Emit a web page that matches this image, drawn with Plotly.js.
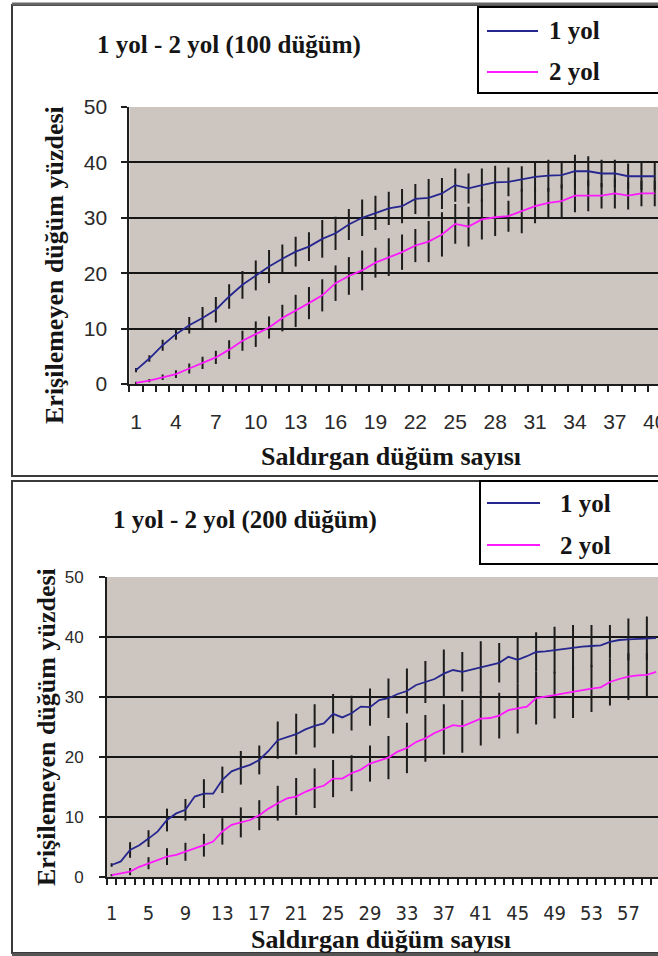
<!DOCTYPE html>
<html>
<head>
<meta charset="utf-8">
<script src="https://cdn.plot.ly/plotly-3.0.1.min.js"></script>
<style>
html,body{margin:0;padding:0;background:#fff;overflow:hidden;width:658px;height:956px;}
#chart{width:665px;height:956px;}
</style>
</head>
<body>
<div id="chart"></div>
<script>
// ---------- data ----------
const categories100 = Array.from({length: 40}, (_, i) => i + 1);
const categories200 = Array.from({length: 60}, (_, i) => i + 1);

const yol1_100 = [2.5,4.6,7.0,9.0,10.6,11.9,13.4,15.8,17.9,19.6,
                  21.2,22.6,23.9,24.8,26.2,27.2,28.8,30.0,30.9,31.7,
                  32.1,33.4,33.6,34.4,35.9,35.3,35.9,36.4,36.5,37.0,
                  37.4,37.6,37.7,38.4,38.4,38.0,38.0,37.5,37.5,37.5];
const yol2_100 = [0.2,0.6,1.2,1.8,2.8,3.8,4.8,6.2,7.8,9.0,
                  10.2,11.9,13.2,14.6,16.0,18.2,19.5,20.5,21.9,22.9,
                  23.8,25.0,25.7,27.0,28.9,28.4,29.7,30.1,30.3,31.2,
                  32.1,32.7,33.0,34.0,34.0,34.0,34.4,34.0,34.4,34.4];
const err1_100 = [0.4,0.6,1.0,1.0,1.5,2.0,2.3,2.2,2.5,2.7,
                  3.0,2.6,2.7,2.6,3.4,3.0,2.8,3.3,3.1,3.0,
                  3.1,2.7,3.4,2.8,3.0,2.7,3.0,3.0,2.6,2.3,
                  2.7,2.9,2.4,3.0,2.7,2.5,2.5,2.3,2.5,2.5];
const err2_100 = [0.2,0.3,0.5,0.7,0.9,1.1,1.2,1.7,1.8,2.3,
                  2.0,2.4,2.9,2.9,2.9,3.2,3.4,3.6,2.7,3.4,
                  3.2,3.0,3.7,4.0,3.6,3.6,3.6,3.4,2.8,4.0,
                  3.1,2.7,3.0,3.0,2.8,2.3,2.7,2.5,2.3,2.3];

const yol1_200 = [2.0,2.6,4.5,5.3,6.4,7.6,9.5,10.6,11.2,13.4,
                  13.9,13.9,16.2,17.6,18.2,18.7,19.5,21.0,22.8,23.3,
                  23.8,24.6,25.2,25.6,27.2,26.6,27.3,28.4,28.3,29.5,
                  29.8,30.5,31.0,32.0,32.5,33.0,33.9,34.5,34.2,34.6,
                  35.0,35.4,35.7,36.7,36.2,36.8,37.5,37.6,37.8,38.0,
                  38.3,38.4,38.5,38.6,39.2,39.5,39.6,39.7,39.8,39.8];
const yol2_200 = [0.3,0.6,0.9,1.7,2.3,2.8,3.4,3.7,4.2,4.8,
                  5.3,5.9,7.6,8.7,9.1,9.5,10.3,11.4,12.3,13.1,
                  13.4,14.2,14.8,15.2,16.4,16.4,17.3,17.9,18.9,19.4,
                  19.9,20.9,21.5,22.5,23.1,24.0,24.6,25.3,25.1,25.8,
                  26.4,26.5,26.9,27.8,28.1,28.4,29.8,30.0,30.3,30.6,
                  30.9,31.2,31.4,31.6,32.5,33.0,33.4,33.6,33.7,34.2];
// error bars are drawn on every second category (odd ones)
const err1_200 = [0.3,null,1.3,null,1.4,null,1.9,null,1.8,null,
                  2.4,null,2.2,null,2.8,null,2.4,null,3.1,null,
                  3.4,null,3.6,null,3.3,null,2.9,null,3.1,null,
                  3.3,null,3.75,null,3.5,null,4.0,null,3.3,null,
                  4.3,null,3.3,null,3.9,null,3.3,null,3.9,null,
                  3.7,null,3.5,null,2.8,null,3.5,null,3.6,null];
const err2_200 = [0.2,null,0.6,null,1.0,null,1.4,null,1.5,null,
                  1.9,null,2.2,null,2.5,null,2.5,null,2.9,null,
                  3.1,null,3.3,null,3.1,null,3.0,null,3.0,null,
                  3.6,null,4.2,null,3.9,null,4.2,null,4.4,null,
                  4.5,null,3.8,null,4.2,null,4.4,null,3.9,null,
                  4.4,null,3.9,null,3.9,null,3.9,null,3.6,null];

const tickVals100 = [1,4,7,10,13,16,19,22,25,28,31,34,37,40];
const tickVals200 = [1,5,9,13,17,21,25,29,33,37,41,45,49,53,57];
const yTicks = [0,10,20,30,40,50];

const seriesNames = ['1 yol', '2 yol'];
const titles = ['1 yol - 2 yol (100 düğüm)', '1 yol - 2 yol (200 düğüm)'];
const xTitle = 'Saldırgan düğüm sayısı';
const yTitle = 'Erişilemeyen düğüm yüzdesi';

// ---------- styling ----------
const W = 665, H = 956;
const fx = p => p / W;
const fy = p => 1 - p / H;
const BLUE = '#26268f';
const PINK = '#ff19ff';
const ERR = '#1c1c1c';
const serif = 'Liberation Serif, Times New Roman, serif';
const sans = 'Liberation Sans, Arial, sans-serif';
const narrow = 'Liberation Sans Narrow, DejaVu Sans Condensed, Arial Narrow, sans-serif';

function lineTrace(x, y, err, color, xa, ya, name) {
  return {
    type: 'scatter', mode: 'lines', x: x, y: y, name: name,
    xaxis: xa, yaxis: ya, showlegend: false,
    line: {color: color, width: 1.8},
    error_y: {type: 'data', array: err, visible: true, color: ERR, thickness: 2, width: 0}
  };
}

const traces = [
  lineTrace(categories100, yol1_100, err1_100, BLUE, 'x', 'y', seriesNames[0]),
  lineTrace(categories100, yol2_100, err2_100, PINK, 'x', 'y', seriesNames[1]),
  lineTrace(categories200, yol1_200, err1_200, BLUE, 'x2', 'y2', seriesNames[0]),
  lineTrace(categories200, yol2_200, err2_200, PINK, 'x2', 'y2', seriesNames[1])
];

function xAxis(domain, n, tickvals, font, standoff) {
  return {
    domain: domain, range: [0.5, n + 0.5], tickmode: 'array', tickvals: tickvals,
    ticks: '', showgrid: false, zeroline: false, fixedrange: true,
    showline: true, linecolor: '#1e1e1e', linewidth: 2,
    tickfont: font, ticklabelstandoff: standoff, ticklabeloverflow: 'allow',
    minor: {tickmode: 'linear', tick0: 0.5, dtick: 1, ticks: 'outside', ticklen: 6, tickcolor: '#1e1e1e', tickwidth: 2, showgrid: false}
  };
}
function yAxis(domain, font, standoff, anchor) {
  return {
    domain: domain, range: [0, 50], tickmode: 'array', tickvals: yTicks, anchor: anchor,
    ticks: 'outside', ticklen: 6, tickcolor: '#1e1e1e', tickwidth: 2,
    showgrid: true, gridcolor: '#161616', gridwidth: 2, zeroline: false, fixedrange: true,
    showline: true, linecolor: '#1e1e1e', linewidth: 2,
    tickfont: font, ticklabelstandoff: standoff
  };
}

const layout = {
  width: W, height: H,
  margin: {l: 0, r: 0, t: 0, b: 0},
  paper_bgcolor: '#ffffff',
  plot_bgcolor: '#cdc6c0',
  showlegend: false,
  xaxis: Object.assign(xAxis([fx(129.4), fx(661.4)], 40, tickVals100, {family: sans, size: 21, color: '#2a2a2a'}, 18), {anchor: 'y'}),
  yaxis: yAxis([fy(384), fy(107)], {family: sans, size: 21, color: '#2a2a2a'}, 10, 'x'),
  xaxis2: Object.assign(xAxis([fx(107), fx(660.7)], 60, tickVals200, {family: narrow, size: 20, color: '#2a2a2a'}, 17), {anchor: 'y2'}),
  yaxis2: yAxis([fy(877), fy(577)], {family: sans, size: 17, color: '#2a2a2a'}, 12, 'x2'),
  shapes: [
    // chart frames
    {type: 'rect', xref: 'paper', yref: 'paper', x0: fx(12), x1: fx(720), y0: fy(476), y1: fy(5), line: {color: '#3a3a3a', width: 2}},
    {type: 'rect', xref: 'paper', yref: 'paper', x0: fx(12), x1: fx(720), y0: fy(953), y1: fy(481), line: {color: '#3a3a3a', width: 2}},
    {type: 'line', xref: 'paper', yref: 'paper', x0: fx(12), x1: fx(720), y0: fy(954.5), y1: fy(954.5), line: {color: '#555', width: 3}},
    {type: 'line', xref: 'paper', yref: 'paper', x0: fx(12), x1: fx(720), y0: fy(4), y1: fy(4), line: {color: '#666', width: 3}},
    // legend boxes
    {type: 'rect', xref: 'paper', yref: 'paper', x0: fx(478), x1: fx(720), y0: fy(93), y1: fy(7), line: {color: '#000', width: 2}, fillcolor: '#fff'},
    {type: 'rect', xref: 'paper', yref: 'paper', x0: fx(480), x1: fx(720), y0: fy(564), y1: fy(481), line: {color: '#000', width: 2}, fillcolor: '#fff'},
    // legend samples
    {type: 'line', xref: 'paper', yref: 'paper', x0: fx(487), x1: fx(538), y0: fy(31), y1: fy(31), line: {color: BLUE, width: 2}},
    {type: 'line', xref: 'paper', yref: 'paper', x0: fx(487), x1: fx(538), y0: fy(72), y1: fy(72), line: {color: PINK, width: 2}},
    {type: 'line', xref: 'paper', yref: 'paper', x0: fx(487), x1: fx(540), y0: fy(503), y1: fy(503), line: {color: BLUE, width: 2}},
    {type: 'line', xref: 'paper', yref: 'paper', x0: fx(487), x1: fx(540), y0: fy(545), y1: fy(545), line: {color: PINK, width: 2}}
  ],
  annotations: []
};

function ann(text, x, y, size, opts) {
  return Object.assign({
    text: '<b>' + text + '</b>', xref: 'paper', yref: 'paper', x: fx(x), y: fy(y),
    xanchor: 'center', yanchor: 'middle', showarrow: false,
    font: {family: serif, size: size, color: '#151515'}
  }, opts || {});
}
layout.annotations.push(
  ann(titles[0], 229, 45, 25),
  ann(titles[1], 245, 520, 25),
  ann(xTitle, 391, 456, 26),
  ann(xTitle, 381, 939, 26),
  ann(yTitle, 55, 265, 26, {textangle: -90}),
  ann(yTitle, 46, 727, 26, {textangle: -90}),
  ann(seriesNames[0], 547, 31, 25, {xanchor: 'left'}),
  ann(seriesNames[1], 547, 72, 25, {xanchor: 'left'}),
  ann(seriesNames[0], 558, 503, 25, {xanchor: 'left'}),
  ann(seriesNames[1], 558, 545, 25, {xanchor: 'left'})
);

Plotly.newPlot('chart', traces, layout, {staticPlot: true, displayModeBar: false});
</script>
</body>
</html>
